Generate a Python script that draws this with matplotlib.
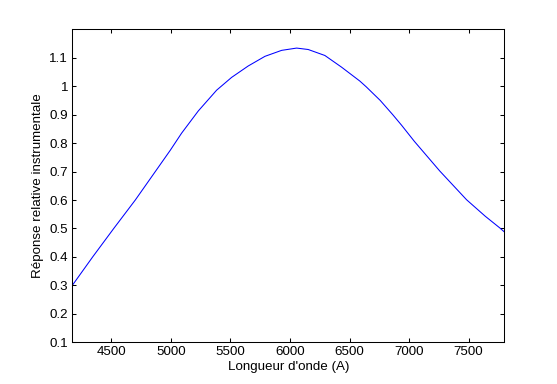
import matplotlib
matplotlib.use("Agg")
import matplotlib.pyplot as plt
from matplotlib.ticker import FuncFormatter

# valeurs
longueur_onde = [4172, 4343, 4520, 4701, 4869, 4995, 5090, 5230, 5384, 5510,
                 5649, 5790, 5930, 6056, 6153, 6293, 6433, 6587, 6640, 6758,
                 6863, 6937, 7045, 7258, 7483, 7640, 7762, 7800]
reponse = [0.300, 0.400, 0.500, 0.600, 0.700, 0.775, 0.835, 0.913, 0.986, 1.031,
           1.071, 1.105, 1.126, 1.134, 1.129, 1.108, 1.067, 1.018, 0.998, 0.950,
           0.900, 0.863, 0.806, 0.702, 0.601, 0.543, 0.502, 0.488]

xticks = [4500, 5000, 5500, 6000, 6500, 7000, 7500]
yticks = [0.1, 0.2, 0.3, 0.4, 0.5, 0.6, 0.7, 0.8, 0.9, 1.0, 1.1]

plt.rcParams['font.family'] = ['Liberation Sans', 'DejaVu Sans']
plt.rcParams['font.size'] = 9.6

fig = plt.figure(figsize=(5.57, 3.84), dpi=100)
ax = fig.add_axes([0.1298, 0.1086, 0.7756, 0.8151])

ax.plot(longueur_onde, reponse, color='#0000ff', linewidth=0.75)

ax.set_xlim(4172, 7800)
ax.set_ylim(0.1, 1.2)
ax.set_xticks(xticks)
ax.set_yticks(yticks)
ax.yaxis.set_major_formatter(FuncFormatter(lambda v, p: '%g' % round(v, 2)))
ax.tick_params(direction='in', length=3, width=0.75, top=True, right=True,
               pad=3, labelsize=9.6)
for s in ax.spines.values():
    s.set_linewidth(0.75)

ax.set_xlabel("Longueur d'onde (A)", labelpad=2)
ax.set_ylabel("Réponse relative instrumentale", labelpad=4)

fig.savefig("out.png", dpi=100)
